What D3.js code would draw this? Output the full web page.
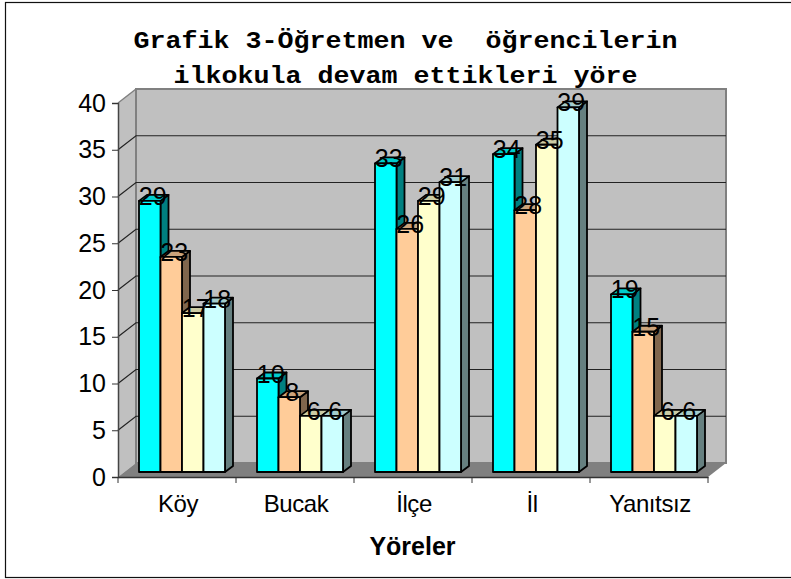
<!DOCTYPE html>
<html>
<head>
<meta charset="utf-8">
<script src="https://cdn.jsdelivr.net/npm/d3@7"></script>
<style>
body { margin: 0; background: #fff; overflow: hidden; }
svg { display: block; }
</style>
</head>
<body>
<svg id="chart" width="791" height="579"></svg>
<script>
const categories = ["Köy", "Bucak", "İlçe", "İl", "Yanıtsız"];
const seriesA = [29, 10, 33, 34, 19];
const seriesB = [23, 8, 26, 28, 15];
const seriesC = [17, 6, 29, 35, 6];
const seriesD = [18, 6, 31, 39, 6];
const allSeries = [seriesA, seriesB, seriesC, seriesD];
const seriesColors = ["#00ffff", "#ffcc99", "#ffffcc", "#ccffff"];
const yTicks = [0, 5, 10, 15, 20, 25, 30, 35, 40];
const titleLines = ["Grafik 3-Öğretmen ve  öğrencilerin", "ilkokula devam ettikleri yöre"];

const svg = d3.select("#chart");
const sans = "'Liberation Sans', Arial, sans-serif";

// plot box
const x0 = 118, x1 = 708, y0 = 477, y40 = 103;
const depth = { dx: 18, dy: -14 };
const barDepth = { dx: 8, dy: -6 };
const barShift = { dx: 0, dy: -5 };

const x = d3.scaleBand().domain(categories).range([x0, x1]);
const xBar = d3.scaleBand().domain(d3.range(4)).range([21, 107]);
const y = d3.scaleLinear().domain([0, 40]).range([y0, y40]);

// outer frame, runs off the right edge like the source image
svg.append("rect")
    .attr("x", 5.5).attr("y", 2.5)
    .attr("width", 800).attr("height", 575)
    .attr("fill", "#fff").attr("stroke", "#111").attr("stroke-width", 1.2);

// walls
const wallGrey = "#c0c0c0", edgeGrey = "#808080";
svg.append("path")
    .attr("d", `M${x0},${y(0)}L${x0 + depth.dx},${y(0) + depth.dy}L${x0 + depth.dx},${y(40) + depth.dy}L${x0},${y(40)}Z`)
    .attr("fill", wallGrey);
svg.append("rect")
    .attr("x", x0 + depth.dx).attr("y", y(40) + depth.dy)
    .attr("width", x1 - x0).attr("height", y(0) - y(40))
    .attr("fill", wallGrey).attr("stroke", edgeGrey).attr("stroke-width", 2);
svg.append("path")
    .attr("d", `M${x0},${y(0)}L${x0 + depth.dx},${y(0) + depth.dy}L${x1 + depth.dx},${y(0) + depth.dy}L${x1},${y(0)}Z`)
    .attr("fill", edgeGrey);

// top diagonal of the side wall
svg.append("line")
    .attr("x1", x0).attr("y1", y(40))
    .attr("x2", x0 + depth.dx).attr("y2", y(40) + depth.dy)
    .attr("stroke", edgeGrey).attr("stroke-width", 1.5);

// gridlines, wall part and back part
const grid = svg.append("g").attr("stroke", "#222").attr("stroke-width", 1.2).attr("fill", "none");
yTicks.slice(1, -1).forEach(t => {
    grid.append("path")
        .attr("d", `M${x0},${y(t)}L${x0 + depth.dx},${y(t) + depth.dy}L${x1 + depth.dx},${y(t) + depth.dy}`);
});

// axes
const yAxis = svg.append("g")
    .attr("transform", `translate(${x0},0)`)
    .call(d3.axisLeft(y).tickValues(yTicks).tickSize(6).tickPadding(6));
yAxis.select(".domain").attr("stroke", "#444").attr("stroke-width", 1.5);
yAxis.selectAll("line").attr("stroke", "#333");
yAxis.selectAll("text").attr("font-family", sans).attr("font-size", 25).attr("fill", "#000");

const xAxis = svg.append("g")
    .attr("transform", `translate(0,${y0})`)
    .call(d3.axisBottom(x).tickValues([]).tickSize(0));
xAxis.select(".domain").attr("stroke", "#333").attr("stroke-width", 1.5);
svg.append("g").selectAll("line")
    .data(d3.range(6))
    .enter()
    .append("line")
    .attr("x1", i => x0 + i * x.bandwidth())
    .attr("x2", i => x0 + i * x.bandwidth())
    .attr("y1", y0)
    .attr("y2", y0 + 6)
    .attr("stroke", "#333");

svg.append("g").selectAll("text")
    .data(categories)
    .enter()
    .append("text")
    .attr("x", d => x(d) + x.bandwidth() / 2 + 1)
    .attr("y", 512)
    .attr("text-anchor", "middle")
    .attr("font-family", sans)
    .attr("font-size", 24)
    .attr("letter-spacing", -0.4)
    .text(d => d);

// bars
const bars = svg.append("g").attr("stroke", "#000").attr("stroke-width", 1.8).attr("stroke-linejoin", "round");
categories.forEach((c, ci) => {
    allSeries.forEach((vals, si) => {
        const left = x(c) + xBar(si);
        const w = xBar.bandwidth();
        const top = y(vals[ci]) + barShift.dy;
        const bottom = y(0) + barShift.dy;
        const col = d3.color(seriesColors[si]);
        const dx = barDepth.dx, dy = barDepth.dy;
        // side
        bars.append("path")
            .attr("d", `M${left + w},${top}L${left + w + dx},${top + dy}L${left + w + dx},${bottom + dy}L${left + w},${bottom}Z`)
            .attr("fill", d3.rgb(col.r * 0.5, col.g * 0.5, col.b * 0.5));
        // top
        bars.append("path")
            .attr("d", `M${left},${top}L${left + dx},${top + dy}L${left + w + dx},${top + dy}L${left + w},${top}Z`)
            .attr("fill", d3.rgb(col.r * 0.8, col.g * 0.8, col.b * 0.8));
        // front
        bars.append("rect")
            .attr("x", left).attr("y", top)
            .attr("width", w).attr("height", bottom - top)
            .attr("fill", col);
    });
});

// data labels
const labels = svg.append("g")
    .attr("font-family", sans).attr("font-size", 25).attr("fill", "#000").attr("text-anchor", "middle");
categories.forEach((c, ci) => {
    allSeries.forEach((vals, si) => {
        labels.append("text")
            .attr("x", x(c) + xBar(si) + xBar.bandwidth() / 2 + 3)
            .attr("y", y(vals[ci]) + barShift.dy + 4)
            .text(vals[ci]);
    });
});

// title
svg.append("g").selectAll("text")
    .data(titleLines)
    .enter()
    .append("text")
    .attr("x", 405.5)
    .attr("y", (d, i) => 48 + i * 35)
    .attr("text-anchor", "middle")
    .style("white-space", "pre")
    .attr("font-family", "'Liberation Mono', monospace")
    .attr("font-weight", "bold")
    .attr("font-size", 23)
    .attr("textLength", d => d.length * 16)
    .attr("lengthAdjust", "spacingAndGlyphs")
    .text(d => d);

// x axis title
svg.append("text")
    .attr("x", 412.5).attr("y", 555)
    .attr("text-anchor", "middle")
    .attr("font-family", sans)
    .attr("font-weight", "bold")
    .attr("font-size", 25)
    .text("Yöreler");
</script>
</body>
</html>
